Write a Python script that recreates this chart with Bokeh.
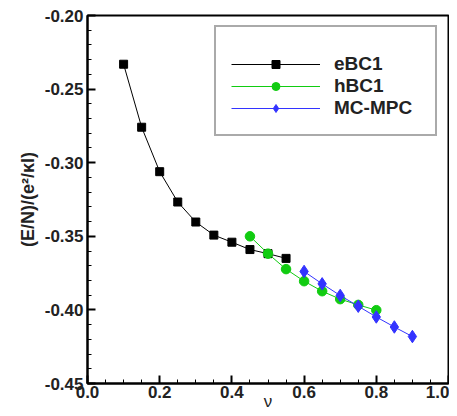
from bokeh.plotting import figure
from bokeh.models import Range1d, SingleIntervalTicker, NumeralTickFormatter, Legend, LegendItem
from bokeh.embed import file_html
from bokeh.resources import INLINE

# data
ebc1_x = [0.10, 0.15, 0.20, 0.25, 0.30, 0.35, 0.40, 0.45, 0.50, 0.55]
ebc1_y = [-0.2331, -0.2759, -0.3061, -0.3267, -0.3403, -0.3492, -0.3540, -0.3590, -0.3618, -0.3650]
hbc1_x = [0.45, 0.50, 0.55, 0.60, 0.65, 0.70, 0.75, 0.80]
hbc1_y = [-0.3500, -0.3618, -0.3723, -0.3805, -0.3873, -0.3927, -0.3966, -0.4002]
mc_x = [0.60, 0.65, 0.70, 0.75, 0.80, 0.85, 0.90]
mc_y = [-0.3739, -0.3823, -0.3902, -0.3975, -0.4048, -0.4116, -0.4181]
labels = ["eBC1", "hBC1", "MC-MPC"]
x_title = "\u03bd"
y_title = "(E/N)/(e\u00b2/\u03bal)"

FONT = "Liberation Sans"

p = figure(width=449, height=416, output_backend="svg", toolbar_location=None,
           x_range=Range1d(0, 1), y_range=Range1d(-0.45, -0.20),
           min_border_left=87, min_border_top=15, min_border_right=1, min_border_bottom=33)
p.grid.visible = False
p.outline_line_color = "black"
p.outline_line_width = 2
p.background_fill_color = "white"

p.xaxis.ticker = SingleIntervalTicker(interval=0.2, num_minor_ticks=4)
p.yaxis.ticker = SingleIntervalTicker(interval=0.05, num_minor_ticks=5)
p.xaxis.formatter = NumeralTickFormatter(format="0.0")
p.yaxis.formatter = NumeralTickFormatter(format="0.00")
for ax in (p.xaxis, p.yaxis):
    ax.axis_line_width = 2
    ax.axis_line_color = "black"
    ax.major_tick_in = 8
    ax.major_tick_out = 0
    ax.minor_tick_in = 4
    ax.minor_tick_out = 0
    ax.major_tick_line_width = 2
    ax.minor_tick_line_width = 1
    ax.major_label_text_font = FONT
    ax.major_label_text_font_style = "bold"
    ax.major_label_text_font_size = "17px"
    ax.major_label_text_color = "#222222"
p.xaxis.major_label_standoff = 2
p.yaxis.major_label_standoff = 4

p.yaxis.axis_label = y_title
p.yaxis.axis_label_text_font = FONT
p.yaxis.axis_label_text_font_style = "bold"
p.yaxis.axis_label_text_font_size = "18px"
p.yaxis.axis_label_text_color = "#222222"
p.yaxis.axis_label_standoff = 4

p.xaxis.axis_label = x_title
p.xaxis.axis_label_text_font = FONT
p.xaxis.axis_label_text_font_style = "normal"
p.xaxis.axis_label_text_font_size = "17px"
p.xaxis.axis_label_text_color = "#222222"
p.xaxis.axis_label_standoff = -9

l1 = p.line(ebc1_x, ebc1_y, line_color="black", line_width=1)
m1 = p.scatter(ebc1_x, ebc1_y, marker="square", size=8, fill_color="black", line_color="black")
l2 = p.line(hbc1_x, hbc1_y, line_color="#11cc11", line_width=1)
m2 = p.scatter(hbc1_x, hbc1_y, marker="circle", size=9.5, fill_color="#11cc11", line_color="#11cc11")
l3 = p.line(mc_x, mc_y, line_color="#3333ff", line_width=1)
m3 = p.scatter(mc_x, mc_y, marker="diamond", size=12.5, fill_color="#3333ff", line_color="#3333ff")

legend = Legend(items=[LegendItem(label=labels[0], renderers=[l1, m1]),
                       LegendItem(label=labels[1], renderers=[l2, m2]),
                       LegendItem(label=labels[2], renderers=[l3, m3])],
                location=(127, 247))
legend.title = " "
legend.title_text_font_size = "8px"
legend.title_standoff = 2
legend.padding = 15
legend.spacing = 0
legend.glyph_width = 89
legend.glyph_height = 20
legend.label_height = 20
legend.label_width = 86
legend.label_standoff = 14
legend.label_text_font = FONT
legend.label_text_font_style = "bold"
legend.label_text_font_size = "19px"
legend.label_text_color = "#222222"
legend.border_line_color = "#555555"
legend.border_line_width = 2
legend.margin = 0
p.add_layout(legend, "center")

open("out.html", "w").write(file_html(p, INLINE))
